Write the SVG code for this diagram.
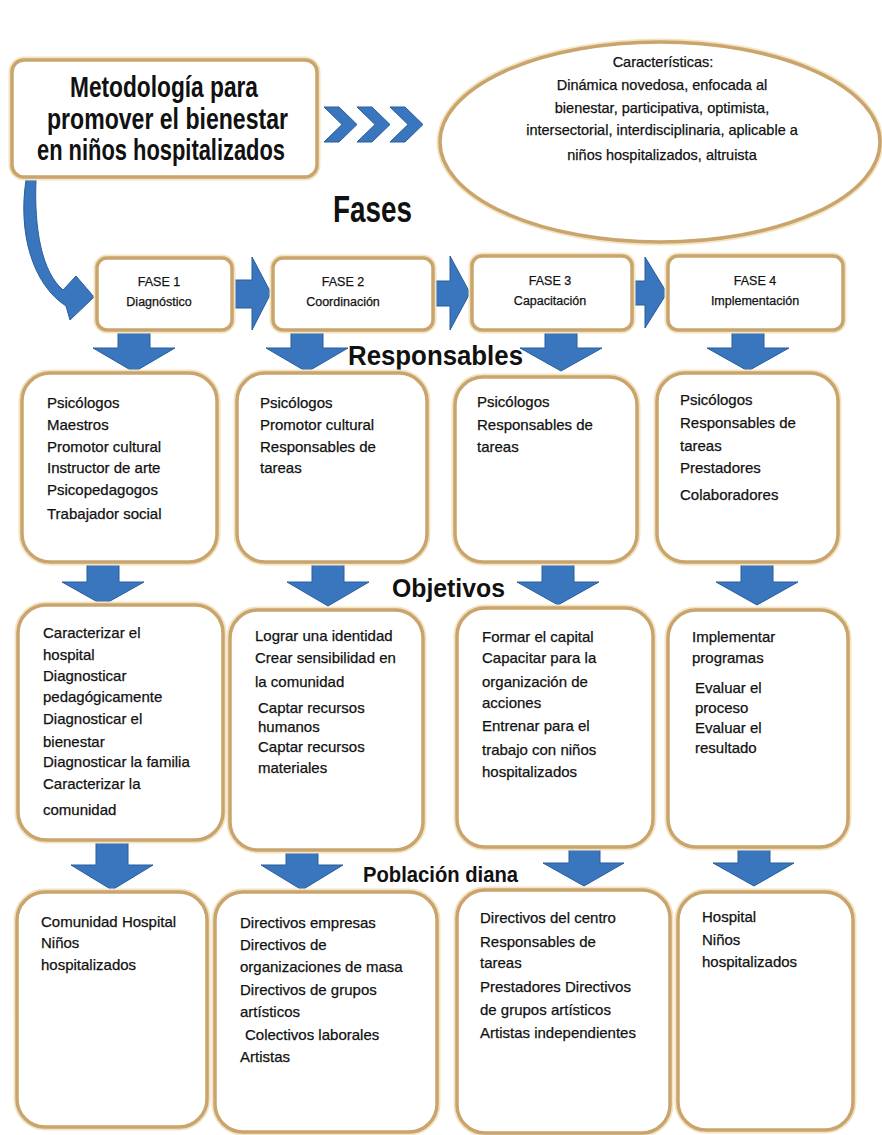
<svg xmlns="http://www.w3.org/2000/svg" width="882" height="1135" viewBox="0 0 882 1135">
<defs>
<style>
.box{fill:#fff;stroke:#c9a46c;stroke-width:3.5}
.glow{fill:none;stroke:#f3e4c4;stroke-width:7}
.arr{fill:#3a76be;stroke:#285d9c;stroke-width:1}
.t{font-family:"Liberation Sans",Arial,sans-serif;font-size:15px;fill:#111;stroke:#111;stroke-width:0.25}
.ph{font-family:"Liberation Sans",Arial,sans-serif;font-size:12.5px;fill:#111;text-anchor:middle;stroke:#111;stroke-width:0.25}
.el{font-family:"Liberation Sans",Arial,sans-serif;font-size:14.5px;fill:#111;text-anchor:middle;stroke:#111;stroke-width:0.25}
.h{font-family:"Liberation Sans",Arial,sans-serif;font-weight:bold;fill:#111}
</style>
</defs>
<rect width="882" height="1135" fill="#fff"/>

<g id="connectors">
<path class="arr" d="M26 180 C18 232 32 284 66 306 L70 320 L94 297 L76 276 L63 290 C42 272 34 230 36 180 Z"/>
<path class="arr" d="M324 107 H339 L357 124.5 L339 142 H324 L342 124.5 Z"/>
<path class="arr" d="M357 107 H372 L390 124.5 L372 142 H357 L375 124.5 Z"/>
<path class="arr" d="M390 107 H405 L423 124.5 L405 142 H390 L408 124.5 Z"/>
<path class="arr" d="M230 280 H252 V257 L271 293 L252 330 V308 H230 Z"/>
<path class="arr" d="M431 281 H450 V256 L470 293 L450 330 V306 H431 Z"/>
<path class="arr" d="M630 281 H645 V257 L667 293 L645 328 V305 H630 Z"/>
<path class="arr" d="M118 326 H150 V348 H175 L134 372 L93 348 H118 Z"/>
<path class="arr" d="M291 326 H323 V348 H348 L307 372 L266 348 H291 Z"/>
<path class="arr" d="M545 326 H577 V348 H602 L561 371 L520 348 H545 Z"/>
<path class="arr" d="M732 326 H764 V348 H789 L748 371 L707 348 H732 Z"/>
<path class="arr" d="M87 558 H119 V582 H144 L103 605 L62 582 H87 Z"/>
<path class="arr" d="M312 558 H344 V582 H369 L328 606 L287 582 H312 Z"/>
<path class="arr" d="M542 558 H574 V582 H599 L558 605 L517 582 H542 Z"/>
<path class="arr" d="M741 558 H773 V582 H798 L757 605 L716 582 H741 Z"/>
<path class="arr" d="M96 836 H128 V865 H153 L112 890 L71 865 H96 Z"/>
<path class="arr" d="M286 846 H318 V865 H343 L302 890 L261 865 H286 Z"/>
<path class="arr" d="M569 843 H600 V863 H624 L584 886 L543 863 H569 Z"/>
<path class="arr" d="M738 843 H770 V863 H794 L754 886 L713 863 H738 Z"/>
</g>

<g id="title">
<rect class="glow" x="12" y="60" width="305" height="117" rx="12"/>
<rect class="box" x="12" y="60" width="305" height="117" rx="12"/>
<text class="h" font-size="29" x="70" y="97" textLength="188" lengthAdjust="spacingAndGlyphs">Metodología para</text>
<text class="h" font-size="29" x="47" y="129" textLength="241" lengthAdjust="spacingAndGlyphs">promover el bienestar</text>
<text class="h" font-size="29" x="37" y="160" textLength="248" lengthAdjust="spacingAndGlyphs">en niños hospitalizados</text>
</g>

<g id="caracteristicas">
<ellipse class="glow" cx="660" cy="142" rx="220" ry="100"/>
<ellipse class="box" cx="660" cy="142" rx="220" ry="100"/>
<text class="el" x="663" y="67">Características:</text>
<text class="el" x="662" y="90">Dinámica novedosa, enfocada al</text>
<text class="el" x="662" y="113">bienestar, participativa, optimista,</text>
<text class="el" x="662" y="135">intersectorial, interdisciplinaria, aplicable a</text>
<text class="el" x="662" y="160">niños hospitalizados, altruista</text>
</g>

<g id="labels">
<text class="h" font-size="36" x="333" y="222" textLength="79" lengthAdjust="spacingAndGlyphs">Fases</text>
<text class="h" font-size="27" x="348" y="365" textLength="175" lengthAdjust="spacingAndGlyphs">Responsables</text>
<text class="h" font-size="26" x="392" y="597" textLength="113" lengthAdjust="spacingAndGlyphs">Objetivos</text>
<text class="h" font-size="22" x="363" y="882" textLength="155" lengthAdjust="spacingAndGlyphs">Población diana</text>
</g>

<g id="fase1">
<rect class="glow" x="97" y="258" width="135" height="72" rx="10"/>
<rect class="box" x="97" y="258" width="135" height="72" rx="10"/>
<text class="ph" x="159" y="286">FASE 1</text>
<text class="ph" x="159" y="306">Diagnóstico</text>
</g>
<g id="fase2">
<rect class="glow" x="273" y="258" width="160" height="72" rx="10"/>
<rect class="box" x="273" y="258" width="160" height="72" rx="10"/>
<text class="ph" x="343" y="286">FASE 2</text>
<text class="ph" x="343" y="306">Coordinación</text>
</g>
<g id="fase3">
<rect class="glow" x="472" y="256" width="160" height="74" rx="10"/>
<rect class="box" x="472" y="256" width="160" height="74" rx="10"/>
<text class="ph" x="550" y="285">FASE 3</text>
<text class="ph" x="550" y="305">Capacitación</text>
</g>
<g id="fase4">
<rect class="glow" x="668" y="256" width="175" height="74" rx="10"/>
<rect class="box" x="668" y="256" width="175" height="74" rx="10"/>
<text class="ph" x="755" y="285">FASE 4</text>
<text class="ph" x="755" y="305">Implementación</text>
</g>

<g id="responsables1">
<rect class="glow" x="22" y="373" width="195" height="189" rx="28"/>
<rect class="box" x="22" y="373" width="195" height="189" rx="28"/>
<text class="t" x="47" y="408">Psicólogos</text>
<text class="t" x="47" y="430">Maestros</text>
<text class="t" x="47" y="452">Promotor cultural</text>
<text class="t" x="47" y="473">Instructor de arte</text>
<text class="t" x="47" y="495">Psicopedagogos</text>
<text class="t" x="47" y="519">Trabajador social</text>
</g>
<g id="responsables2">
<rect class="glow" x="237" y="373" width="190" height="189" rx="28"/>
<rect class="box" x="237" y="373" width="190" height="189" rx="28"/>
<text class="t" x="260" y="408">Psicólogos</text>
<text class="t" x="260" y="430">Promotor cultural</text>
<text class="t" x="260" y="452">Responsables de</text>
<text class="t" x="260" y="473">tareas</text>
</g>
<g id="responsables3">
<rect class="glow" x="455" y="377" width="182" height="185" rx="28"/>
<rect class="box" x="455" y="377" width="182" height="185" rx="28"/>
<text class="t" x="477" y="407">Psicólogos</text>
<text class="t" x="477" y="430">Responsables de</text>
<text class="t" x="477" y="452">tareas</text>
</g>
<g id="responsables4">
<rect class="glow" x="657" y="373" width="181" height="189" rx="28"/>
<rect class="box" x="657" y="373" width="181" height="189" rx="28"/>
<text class="t" x="680" y="405">Psicólogos</text>
<text class="t" x="680" y="428">Responsables de</text>
<text class="t" x="680" y="451">tareas</text>
<text class="t" x="680" y="473">Prestadores</text>
<text class="t" x="680" y="500">Colaboradores</text>
</g>

<g id="objetivos1">
<rect class="glow" x="18" y="605" width="205" height="235" rx="28"/>
<rect class="box" x="18" y="605" width="205" height="235" rx="28"/>
<text class="t" x="43" y="638">Caracterizar el</text>
<text class="t" x="43" y="660">hospital</text>
<text class="t" x="43" y="681">Diagnosticar</text>
<text class="t" x="43" y="702">pedagógicamente</text>
<text class="t" x="43" y="724">Diagnosticar el</text>
<text class="t" x="43" y="747">bienestar</text>
<text class="t" x="43" y="767">Diagnosticar la familia</text>
<text class="t" x="43" y="789">Caracterizar la</text>
<text class="t" x="43" y="815">comunidad</text>
</g>
<g id="objetivos2">
<rect class="glow" x="230" y="610" width="193" height="240" rx="28"/>
<rect class="box" x="230" y="610" width="193" height="240" rx="28"/>
<text class="t" x="255" y="641">Lograr una identidad</text>
<text class="t" x="255" y="663">Crear sensibilidad en</text>
<text class="t" x="255" y="687">la comunidad</text>
<text class="t" x="258" y="713">Captar recursos</text>
<text class="t" x="258" y="732">humanos</text>
<text class="t" x="258" y="752">Captar recursos</text>
<text class="t" x="258" y="773">materiales</text>
</g>
<g id="objetivos3">
<rect class="glow" x="457" y="608" width="196" height="239" rx="28"/>
<rect class="box" x="457" y="608" width="196" height="239" rx="28"/>
<text class="t" x="482" y="642">Formar el capital</text>
<text class="t" x="482" y="663">Capacitar para la</text>
<text class="t" x="482" y="687">organización de</text>
<text class="t" x="482" y="708">acciones</text>
<text class="t" x="482" y="731">Entrenar para el</text>
<text class="t" x="482" y="755">trabajo con niños</text>
<text class="t" x="482" y="777">hospitalizados</text>
</g>
<g id="objetivos4">
<rect class="glow" x="668" y="610" width="180" height="237" rx="28"/>
<rect class="box" x="668" y="610" width="180" height="237" rx="28"/>
<text class="t" x="692" y="642">Implementar</text>
<text class="t" x="692" y="663">programas</text>
<text class="t" x="695" y="693">Evaluar el</text>
<text class="t" x="695" y="713">proceso</text>
<text class="t" x="695" y="733">Evaluar el</text>
<text class="t" x="695" y="753">resultado</text>
</g>

<g id="poblacion1">
<rect class="glow" x="17" y="892" width="190" height="235" rx="28"/>
<rect class="box" x="17" y="892" width="190" height="235" rx="28"/>
<text class="t" x="41" y="927">Comunidad Hospital</text>
<text class="t" x="41" y="948">Niños</text>
<text class="t" x="41" y="970">hospitalizados</text>
</g>
<g id="poblacion2">
<rect class="glow" x="215" y="892" width="222" height="240" rx="28"/>
<rect class="box" x="215" y="892" width="222" height="240" rx="28"/>
<text class="t" x="240" y="928">Directivos empresas</text>
<text class="t" x="240" y="950">Directivos de</text>
<text class="t" x="240" y="972">organizaciones de masa</text>
<text class="t" x="240" y="995">Directivos de grupos</text>
<text class="t" x="240" y="1017">artísticos</text>
<text class="t" x="245" y="1040">Colectivos laborales</text>
<text class="t" x="240" y="1062">Artistas</text>
</g>
<g id="poblacion3">
<rect class="glow" x="457" y="890" width="213" height="243" rx="28"/>
<rect class="box" x="457" y="890" width="213" height="243" rx="28"/>
<text class="t" x="480" y="923">Directivos del centro</text>
<text class="t" x="480" y="947">Responsables de</text>
<text class="t" x="480" y="968">tareas</text>
<text class="t" x="480" y="992">Prestadores Directivos</text>
<text class="t" x="480" y="1015">de grupos artísticos</text>
<text class="t" x="480" y="1038">Artistas independientes</text>
</g>
<g id="poblacion4">
<rect class="glow" x="678" y="892" width="175" height="238" rx="28"/>
<rect class="box" x="678" y="892" width="175" height="238" rx="28"/>
<text class="t" x="702" y="922">Hospital</text>
<text class="t" x="702" y="945">Niños</text>
<text class="t" x="702" y="967">hospitalizados</text>
</g>
</svg>
